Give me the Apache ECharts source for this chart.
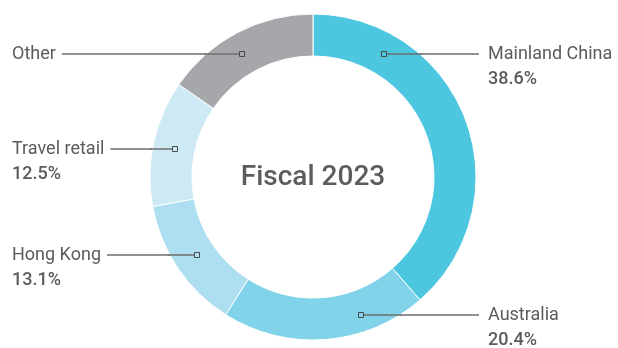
<!DOCTYPE html>
<html>
<head>
<meta charset="utf-8">
<script src="https://cdn.jsdelivr.net/npm/echarts@6/dist/echarts.min.js"></script>
<style>
  html, body { margin: 0; padding: 0; background: #ffffff; }
  #chart { width: 618px; height: 348px; }
</style>
</head>
<body>
<div id="chart"></div>
<script>
// Sales mix by region, fiscal 2023 (share of total, %)
const categories = ['Mainland China', 'Australia', 'Hong Kong', 'Travel retail', 'Other'];
const shares = [38.6, 20.4, 13.1, 12.5, 15.4];
const shareLabelled = [true, true, true, true, false];
const centreTitle = 'Fiscal 2023';

// Styling and layout
const palette = ['#4dc6e0', '#80d3e8', '#aedff0', '#cdeaf4', '#a6a7aa'];
const CX = 313, CY = 177, R_IN = 121, R_OUT = 163;
const markRadius = { 'Mainland China': 142, 'Australia': 146, 'Hong Kong': 140, 'Travel retail': 141, 'Other': 142 };
const leaderY = { 'Mainland China': 54, 'Australia': 315, 'Hong Kong': 255, 'Travel retail': 149, 'Other': 54 };
const LEFT_TEXT_X = 12, RIGHT_TEXT_X = 488, RIGHT_LINE_END = 479, GAP = 6;
const TEXT_COLOR = '#5b5b5b', LINE_COLOR = '#6e6e6e', LINE_WIDTH = 1.5;
const FONT = 'Roboto, "Open Sans", sans-serif';

const chart = echarts.init(document.getElementById('chart'), null, { renderer: 'canvas' });

const pieData = categories.map((name, i) => ({
  name,
  value: shares[i],
  itemStyle: { color: palette[i] }
}));

const isRight = (i) => i < 2;

function markerX(i) {
  const name = categories[i];
  const r = markRadius[name];
  const dy = leaderY[name] - CY;
  const dx = Math.sqrt(r * r - dy * dy);
  return Math.round(CX + (isRight(i) ? dx : -dx));
}

function ringEdgeX(i) {
  const dy = leaderY[categories[i]] - CY;
  const dx = Math.sqrt(R_OUT * R_OUT - dy * dy);
  return CX + (isRight(i) ? dx : -dx);
}

// Leader segments across the ring plus the small hollow squares at their ends
function ringGraphics() {
  const out = [];
  categories.forEach((name, i) => {
    const y = leaderY[name];
    const mx = markerX(i);
    const ex = ringEdgeX(i) + (isRight(i) ? 2 : -2);
    out.push({
      type: 'line',
      z: 99,
      shape: { x1: isRight(i) ? mx + 2 : mx - 2, y1: y, x2: ex, y2: y },
      style: { stroke: LINE_COLOR, lineWidth: LINE_WIDTH }
    });
    out.push({
      type: 'rect',
      z: 100,
      shape: { x: mx - 2.5, y: y - 2.5, width: 5, height: 5 },
      style: { fill: palette[i], stroke: '#4a4a4a', lineWidth: 1 }
    });
  });
  return out;
}

chart.setOption({
  animation: false,
  backgroundColor: '#ffffff',
  graphic: [
    {
      type: 'text',
      x: CX,
      y: CY + 1,
      z: 50,
      style: {
        text: centreTitle,
        fill: '#5c5c5c',
        font: '500 28px ' + FONT,
        textAlign: 'center',
        textVerticalAlign: 'middle'
      }
    }
  ].concat(ringGraphics()),
  series: [
    {
      type: 'pie',
      center: [CX, CY],
      radius: [R_IN, R_OUT],
      startAngle: 90,
      clockwise: true,
      avoidLabelOverlap: false,
      itemStyle: { borderColor: '#ffffff', borderWidth: 1 },
      emphasis: { disabled: true },
      data: pieData,
      label: {
        show: true,
        position: 'outside',
        formatter: (p) => shareLabelled[p.dataIndex]
          ? '{n|' + p.name + '}\n{v|' + shares[p.dataIndex].toFixed(1) + '%}'
          : '{n|' + p.name + '}',
        rich: {
          n: { fontFamily: FONT, fontSize: 18, fontWeight: 400, color: TEXT_COLOR, lineHeight: 25 },
          v: { fontFamily: FONT, fontSize: 18, fontWeight: 500, color: TEXT_COLOR, lineHeight: 25 }
        }
      },
      labelLine: {
        show: true,
        showAbove: true,
        lineStyle: { color: LINE_COLOR, width: LINE_WIDTH }
      },
      labelLayout: function (params) {
        const i = params.dataIndex;
        const y = leaderY[categories[i]];
        const ex = ringEdgeX(i);
        const w = params.labelRect.width;
        let pts;
        if (isRight(i)) {
          pts = [[ex, y], [(ex + RIGHT_LINE_END) / 2, y], [RIGHT_LINE_END, y]];
        } else {
          const end = LEFT_TEXT_X + w + GAP;
          pts = [[ex, y], [(ex + end) / 2, y], [end, y]];
        }
        return {
          x: isRight(i) ? RIGHT_TEXT_X : LEFT_TEXT_X,
          y: y - 12.5,
          align: 'left',
          verticalAlign: 'top',
          labelLinePoints: pts
        };
      }
    }
  ]
});
</script>
</body>
</html>
